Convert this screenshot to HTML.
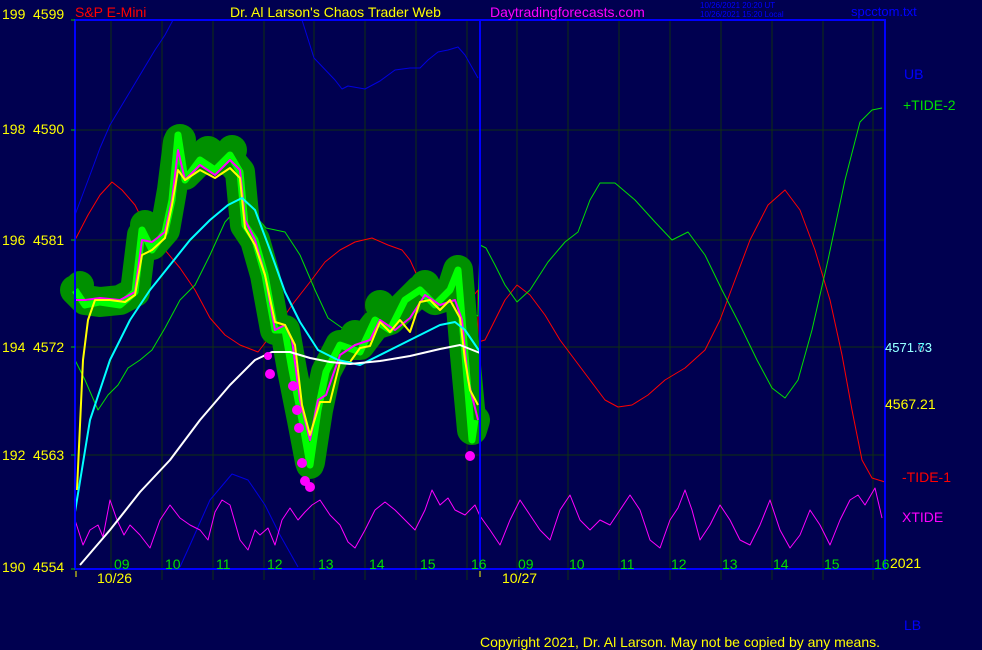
<!DOCTYPE html>
<html><head><meta charset="utf-8"><style>
html,body{margin:0;padding:0;background:#000050;}
svg{display:block;font-family:"Liberation Sans",sans-serif;}
</style></head><body>
<svg width="982" height="650" viewBox="0 0 982 650" xmlns="http://www.w3.org/2000/svg">
<rect width="982" height="650" fill="#000050"/>
<g stroke="#103010" stroke-width="1">
<line x1="75" y1="130" x2="885" y2="130"/><line x1="75" y1="240" x2="885" y2="240"/>
<line x1="75" y1="347" x2="885" y2="347"/><line x1="75" y1="455" x2="885" y2="455"/>
<line x1="111" y1="20" x2="111" y2="580"/><line x1="162" y1="20" x2="162" y2="580"/>
<line x1="213" y1="20" x2="213" y2="580"/><line x1="264" y1="20" x2="264" y2="580"/>
<line x1="314" y1="20" x2="314" y2="580"/><line x1="365" y1="20" x2="365" y2="580"/>
<line x1="416" y1="20" x2="416" y2="580"/><line x1="467" y1="20" x2="467" y2="580"/>
<line x1="517" y1="20" x2="517" y2="580"/><line x1="568" y1="20" x2="568" y2="580"/>
<line x1="619" y1="20" x2="619" y2="580"/><line x1="670" y1="20" x2="670" y2="580"/>
<line x1="721" y1="20" x2="721" y2="580"/><line x1="772" y1="20" x2="772" y2="580"/>
<line x1="823" y1="20" x2="823" y2="580"/><line x1="873" y1="20" x2="873" y2="580"/>
</g>
<g fill="none" stroke-linejoin="round">
<polyline stroke="#0000e0" stroke-width="1" points="75,215 90,175 100,148 110,125 125,100 140,75 155,50 165,35 173,20"/>
<polyline stroke="#0000e0" stroke-width="1" points="302,20 314,58 335,80 342,89 348,86 365,89 380,81 395,70 410,68 420,68 428,60 438,52 448,50 458,47 465,55 478,78"/>
<polyline stroke="#0000e0" stroke-width="1" points="180,567 190,545 210,500 232,474 248,480 265,505 280,535 298,567"/>
<polyline stroke="#ff00ff" stroke-width="1" points="75,520 83,545 90,530 98,525 103,537 110,500 117,520 124,535 130,525 140,535 150,548 160,520 170,505 180,518 190,525 200,530 208,540 215,512 222,500 230,505 240,540 248,550 255,530 260,535 268,528 275,545 282,520 290,508 298,520 305,512 312,505 320,500 330,515 340,525 348,542 355,548 365,530 375,510 385,502 395,510 405,520 415,530 425,510 432,490 440,505 448,498 455,510 465,515 475,505 480,516 490,530 500,545 510,520 520,500 530,515 540,530 550,540 560,510 570,495 580,520 590,530 600,520 610,525 620,510 630,495 640,510 650,540 660,548 670,520 678,508 685,490 692,510 700,540 710,525 720,505 730,520 740,540 750,545 760,525 770,500 780,530 790,548 800,535 810,510 820,525 830,545 840,520 850,500 858,495 865,505 875,488 882,518"/>
<polyline stroke="#ff0000" stroke-width="1" points="75,240 88,215 100,195 112,182 122,190 135,205 150,235 165,250 180,268 195,290 210,318 225,335 240,345 258,352 275,330 292,305 310,282 325,262 340,250 355,242 372,238 388,245 402,250 410,260 420,282 430,294 440,300 455,300 470,300 478,290 478,342 485,340 495,320 505,300 517,285 530,295 545,315 560,340 575,360 590,380 605,400 618,407 632,405 648,395 665,380 685,368 705,350 720,320 735,280 750,240 768,205 785,190 800,210 815,250 830,300 842,355 852,410 862,460 872,478 885,482"/>
<polyline stroke="#00e000" stroke-width="1" points="75,360 85,380 98,410 108,395 118,385 128,368 140,360 152,350 165,328 180,300 195,285 210,255 225,222 238,208 252,212 266,228 285,232 300,255 315,290 328,318 345,330 362,338 380,333 400,320 420,308 440,300 455,296 465,310 478,316 480,245 486,248 495,265 505,285 517,302 530,290 548,262 565,242 578,232 590,200 600,183 615,183 635,200 655,222 672,240 688,232 705,255 722,290 740,325 757,360 772,388 785,398 798,380 812,330 828,260 845,180 860,122 872,110 882,108"/>
<polyline stroke="#009000" stroke-width="30" stroke-linecap="round" points="75,290 85,300 100,302 120,300 135,292 142,235 152,245 165,230 172,190 178,142 185,175 200,160 215,160 230,160 240,172 245,225 255,240 265,275 275,330 285,330 292,370 302,420 310,462 318,410 326,372 340,345 360,345 375,325 390,320 405,305 420,290 435,300 450,295 458,270 465,355 472,430 475,420"/>
<g fill="#009000"><circle cx="180" cy="140" r="16"/><circle cx="208" cy="152" r="16"/><circle cx="232" cy="150" r="15"/><circle cx="145" cy="225" r="15"/><circle cx="380" cy="305" r="15"/><circle cx="425" cy="285" r="15"/><circle cx="457" cy="268" r="12"/><circle cx="310" cy="465" r="14"/><circle cx="355" cy="335" r="15"/><circle cx="80" cy="285" r="14"/></g>
<polyline stroke="#00ff00" stroke-width="7" points="75,290 85,305 100,302 120,305 135,292 142,230 152,250 165,232 172,200 178,135 185,180 200,160 215,170 230,155 240,172 245,225 255,240 265,275 275,330 285,330 292,370 302,420 310,465 318,410 326,372 340,345 360,352 375,320 390,330 405,300 420,290 435,305 450,290 458,270 465,355 472,440 475,420"/>
<polyline stroke="#ff00ff" stroke-width="2" points="75,300 85,300 100,298 120,300 135,292 142,240 152,242 165,232 172,200 178,150 185,180 200,165 215,175 230,160 240,170 245,220 255,240 265,275 275,330 285,325 292,340 300,400 310,440 318,400 326,395 340,355 355,345 370,340 380,320 395,330 410,318 425,295 440,305 455,300 462,320 468,380 478,420"/>
<polyline stroke="#ffff00" stroke-width="2" points="77,490 83,360 88,320 95,300 110,300 125,302 135,295 142,255 152,250 165,238 172,205 178,170 185,180 200,170 215,178 230,168 240,178 245,228 255,245 265,275 275,322 285,325 295,345 302,405 310,435 320,402 330,402 340,362 350,362 360,348 370,346 380,322 390,332 400,320 410,332 420,302 430,300 440,310 450,300 460,318 465,360 470,390 478,405"/>
<polyline stroke="#00ffff" stroke-width="2" points="75,512 90,420 110,360 130,320 150,290 170,265 190,240 210,220 228,205 242,198 255,210 270,250 285,292 300,322 318,350 338,360 360,365 380,355 400,345 420,335 440,325 455,322 465,330 480,352"/>
<polyline stroke="#ffffff" stroke-width="2" points="80,565 110,530 140,492 170,460 200,420 230,385 255,360 272,352 290,352 310,358 330,362 350,364 380,361 410,356 440,349 460,345 480,353"/>
</g>
<g fill="#ff00ff">
<circle cx="270" cy="374" r="5"/><circle cx="268" cy="356" r="4"/><circle cx="293" cy="386" r="5"/><circle cx="297" cy="410" r="5"/><circle cx="299" cy="428" r="5"/><circle cx="302" cy="463" r="5"/><circle cx="305" cy="481" r="5"/><circle cx="310" cy="487" r="5"/><circle cx="470" cy="456" r="5"/>
</g>
<g stroke="#0000ff" stroke-width="2" fill="none">
<polyline points="75,568 75,20 885,20 885,568"/>
<line x1="74" y1="569" x2="886" y2="569"/>
<line x1="480" y1="20" x2="480" y2="569"/>
</g>
<g stroke="#00c000"><line x1="71" y1="20" x2="75" y2="20"/><line x1="71" y1="130" x2="75" y2="130"/><line x1="71" y1="240" x2="75" y2="240"/><line x1="71" y1="347" x2="75" y2="347"/><line x1="71" y1="455" x2="75" y2="455"/><line x1="71" y1="569" x2="75" y2="569"/></g>
<g stroke="#ffff00"><line x1="76" y1="571" x2="76" y2="577"/><line x1="480" y1="571" x2="480" y2="577"/></g>
<g font-size="14" fill="#ffff00">
<text x="2" y="19">199</text><text x="33" y="19">4599</text>
<text x="2" y="134">198</text><text x="33" y="134">4590</text>
<text x="2" y="245">196</text><text x="33" y="245">4581</text>
<text x="2" y="352">194</text><text x="33" y="352">4572</text>
<text x="2" y="460">192</text><text x="33" y="460">4563</text>
<text x="2" y="572">190</text><text x="33" y="572">4554</text>
<text x="97" y="583">10/26</text><text x="502" y="583">10/27</text>
<text x="230" y="17">Dr. Al Larson's Chaos Trader Web</text>
<text x="480" y="647">Copyright 2021, Dr. Al Larson. May not be copied by any means.</text>
<text x="885" y="409">4567.21</text>
<text x="890" y="568">2021</text>
</g>
<text x="75" y="17" font-size="14" fill="#ff0000">S&amp;P E-Mini</text>
<text x="490" y="17" font-size="14" fill="#ff00ff">Daytradingforecasts.com</text>
<text x="700" y="8" font-size="8" fill="#0000ff">10/26/2021 20:20 UT</text>
<text x="700" y="17" font-size="8" fill="#0000ff">10/26/2021 15:20 Local</text>
<text x="851" y="16" font-size="13" fill="#0000ff">spcctom.txt</text>
<g font-size="14" fill="#00e000">
<text x="114" y="569">09</text><text x="165" y="569">10</text><text x="216" y="569">11</text><text x="267" y="569">12</text><text x="318" y="569">13</text><text x="369" y="569">14</text><text x="420" y="569">15</text><text x="471" y="569">16</text>
<text x="518" y="569">09</text><text x="569" y="569">10</text><text x="620" y="569">11</text><text x="671" y="569">12</text><text x="722" y="569">13</text><text x="773" y="569">14</text><text x="824" y="569">15</text><text x="874" y="569">16</text>
</g>
<text x="904" y="79" font-size="14" fill="#0000ff">UB</text>
<text x="903" y="110" font-size="14" fill="#00e000">+TIDE-2</text>
<text x="885" y="352" font-size="13" fill="#00ffff">4571.73</text>
<text x="885" y="352" font-size="13" fill="#ffffff" opacity="0.6">4571.63</text>
<text x="902" y="482" font-size="14" fill="#ff0000">-TIDE-1</text>
<text x="902" y="522" font-size="14" fill="#ff00ff">XTIDE</text>
<text x="904" y="630" font-size="14" fill="#0000ff">LB</text>
</svg>
</body></html>
